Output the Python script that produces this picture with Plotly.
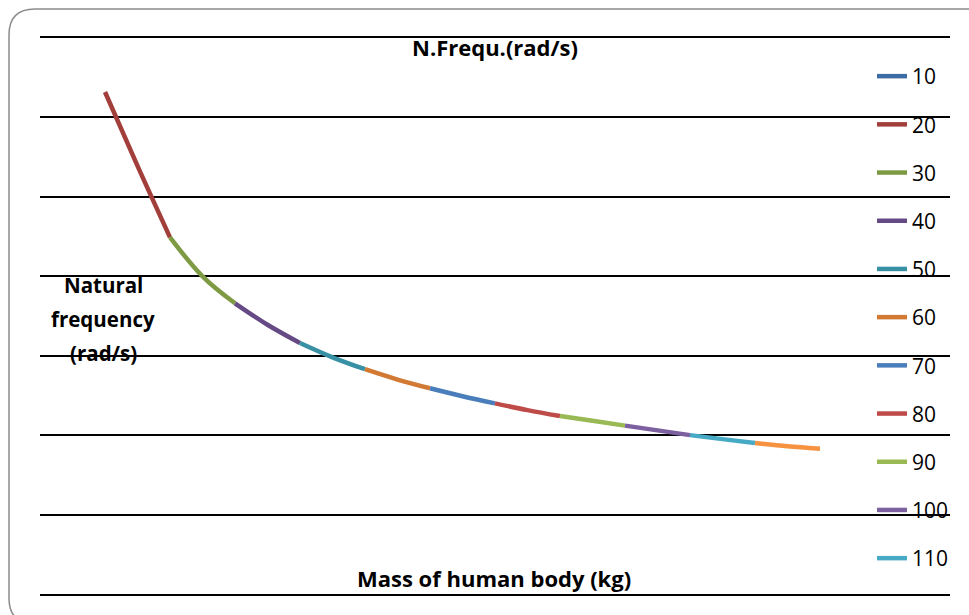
import plotly.graph_objects as go

# ---- data ----
series_labels = ["10", "20", "30", "40", "50", "60", "70", "80", "90", "100", "110", "120"]
series_colors = ["#3D6BA5", "#A33F3B", "#7E9B44", "#664A85", "#3790A4", "#D27A33",
                 "#4A7EBB", "#BE4B48", "#98B954", "#7D60A0", "#46AAC5", "#F69240"]
mass_kg = [20, 25, 30, 35, 40, 45, 50, 55, 60, 65, 70, 75, 80, 85, 90, 95,
           100, 105, 110, 115, 120, 125, 130]
nat_freq = [63.2, 53.9, 44.9, 40.0, 36.6, 33.9, 31.6, 29.8, 28.3, 27.0, 25.9, 24.9,
            24.0, 23.15, 22.4, 21.8, 21.2, 20.6, 20.0, 19.5, 19.0, 18.6, 18.3]
legend_hidden = ["120"]

# ---- layout helpers (pixel -> paper) ----
W, H = 969, 615
PL, PR, PT, PB = 40, 950, 38, 594


def px(x):
    return (x - PL) / (PR - PL)


def py(y):
    return (PB - y) / (PB - PT)


FONT = "Open Sans"

fig = go.Figure()
for lab, col in zip(series_labels, series_colors):
    lo = int(lab)
    xs = [m for m in mass_kg if lo <= m <= lo + 10]
    ys = [f for m, f in zip(mass_kg, nat_freq) if lo <= m <= lo + 10]
    fig.add_trace(go.Scatter(
        x=xs, y=ys, mode="lines", name=lab, legendgroup=lab,
        line=dict(color=col, width=4.5, shape="spline"),
        showlegend=lab not in legend_hidden,
    ))

# rounded chart frame
r = 26
L, T, R, B = 9, 9, 1100, 624
frame = (f"M {px(L)},{py(B - r)} L {px(L)},{py(T + r)} "
         f"Q {px(L)},{py(T)} {px(L + r)},{py(T)} L {px(R)},{py(T)} "
         f"L {px(R)},{py(B)} L {px(L + r)},{py(B)} Q {px(L)},{py(B)} {px(L)},{py(B - r)} Z")


def label(text, x, y, size=22):
    return dict(text=f"<b>{text}</b>", x=px(x), y=py(y), xref="paper", yref="paper",
                xanchor="center", yanchor="middle", showarrow=False,
                font=dict(family=FONT, size=size, color="black"))


fig.update_layout(
    width=W, height=H,
    margin=dict(l=PL, r=W - PR, t=PT, b=H - PB),
    paper_bgcolor="white", plot_bgcolor="white",
    font=dict(family=FONT, color="black"),
    xaxis=dict(range=[10, 150], showgrid=False, showticklabels=False, ticks="",
               showline=True, mirror=True, linecolor="black", linewidth=2, zeroline=False),
    yaxis=dict(range=[0, 70], dtick=10, showgrid=True, gridcolor="black", gridwidth=2,
               showticklabels=False, ticks="", zeroline=False, showline=False),
    legend=dict(x=px(872), y=py(56), xanchor="left", yanchor="top",
                font=dict(family=FONT, size=21, color="black"),
                bgcolor="rgba(0,0,0,0)", traceorder="grouped", tracegroupgap=17.9),
    shapes=[dict(type="path", xref="paper", yref="paper", path=frame,
                 line=dict(color="#8C8C8C", width=1.5), fillcolor="rgba(0,0,0,0)", layer="below")],
    annotations=[
        label("N.Frequ.(rad/s)", 495, 47),
        label("Natural", 103, 285, 20.5),
        label("frequency", 103, 319, 20.5),
        label("(rad/s)", 103, 353, 20.5),
        label("Mass of human body (kg)", 494, 578),
    ],
)

fig.write_html("out.html")
